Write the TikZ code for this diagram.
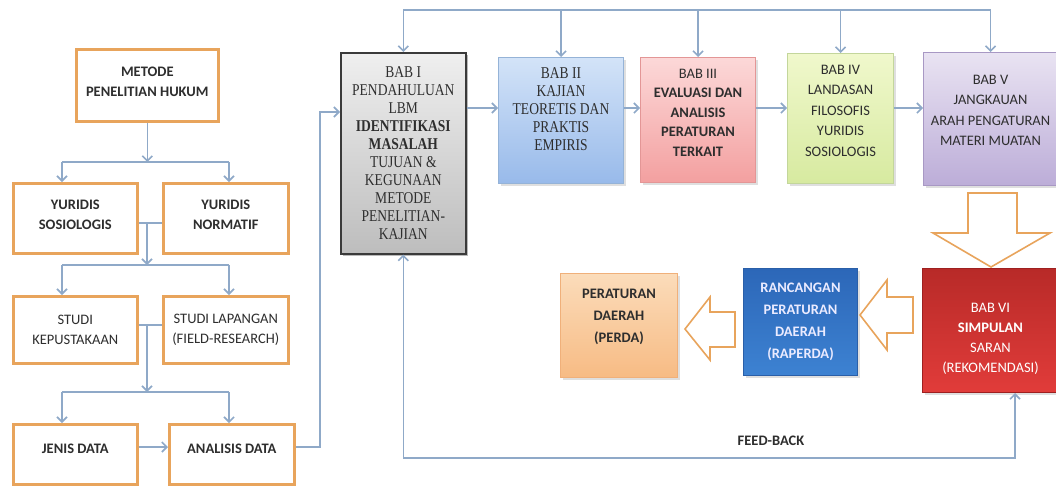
\documentclass[tikz,border=0pt]{standalone}
\usepackage{fontspec}
\setmainfont{Carlito}
\newfontfamily\serifB{Liberation Serif}[FakeStretch=0.82]
\usetikzlibrary{arrows.meta,shadows}
\definecolor{obord}{HTML}{E8A45C}
\definecolor{conc}{HTML}{8FA9C8}
\definecolor{txt}{HTML}{2E2E2E}
\definecolor{gA}{HTML}{EFEFEF}\definecolor{gB}{HTML}{BDBDBD}\definecolor{gD}{HTML}{3A3A3A}
\definecolor{bA}{HTML}{D3E3F8}\definecolor{bB}{HTML}{98BAEA}\definecolor{bD}{HTML}{95B3D7}
\definecolor{pA}{HTML}{FCD8D8}\definecolor{pB}{HTML}{F3A0A0}\definecolor{pD}{HTML}{E39696}
\definecolor{vA}{HTML}{F0F8CC}\definecolor{vB}{HTML}{D7EAA0}\definecolor{vD}{HTML}{C3D69B}
\definecolor{lA}{HTML}{E9E3F2}\definecolor{lB}{HTML}{BCADD8}\definecolor{lD}{HTML}{A898C4}
\definecolor{rA}{HTML}{B82A28}\definecolor{rB}{HTML}{E13C3A}\definecolor{rD}{HTML}{9E2020}
\definecolor{kA}{HTML}{2C67B8}\definecolor{kB}{HTML}{3D82D2}\definecolor{kD}{HTML}{2A5FA8}
\definecolor{oA}{HTML}{FBDCBA}\definecolor{oB}{HTML}{F7BB84}\definecolor{oD}{HTML}{F0B07A}
\begin{document}
\begin{tikzpicture}[x=1pt,y=-1pt,
  conn/.style={draw=conc,line width=1.6pt},
  arr/.style={conn,-{Straight Barb[length=5pt,width=10pt]}},
  lbox/.style={draw=obord,line width=2.6pt,fill=white,text=txt,align=center,inner sep=0pt,anchor=north west,
    font=\bfseries\fontsize{14.5}{19.5}\selectfont},
  bbox/.style={line width=1pt,align=center,inner sep=0pt,anchor=north west,text=txt,
    drop shadow={opacity=0.25,shadow xshift=2pt,shadow yshift=-2pt}},
  serifbox/.style={bbox,font=\serifB\fontsize{16.5}{18}\selectfont},
  calbox/.style={bbox,font=\fontsize{14.5}{20.5}\selectfont},
  bigarr/.style={draw=obord,line width=1.6pt,fill=white,line join=miter}
]
\useasboundingbox (0,0) rectangle (1056,485);

% left column
\node[lbox,minimum width=142,minimum height=72] (met) at (75,48) {METODE\\PENELITIAN HUKUM\rule[-7pt]{0pt}{7pt}};
\node[lbox,minimum width=124,minimum height=70] (ys) at (12,182) {YURIDIS\\SOSIOLOGIS\rule[-7pt]{0pt}{7pt}};
\node[lbox,minimum width=125,minimum height=70] (yn) at (162,182) {YURIDIS\\NORMATIF\rule[-7pt]{0pt}{7pt}};
\node[lbox,minimum width=124,minimum height=67] (sk) at (12,295) {\mdseries STUDI\\\mdseries KEPUSTAKAAN};
\node[lbox,minimum width=125,minimum height=67] (sl) at (162,295) {\mdseries STUDI LAPANGAN\\\mdseries (FIELD-RESEARCH)};
\node[lbox,minimum width=124,minimum height=60] (jd) at (12,423) {JENIS DATA\rule[-11pt]{0pt}{11pt}};
\node[lbox,minimum width=125,minimum height=60] (ad) at (168,423) {ANALISIS DATA\rule[-11pt]{0pt}{11pt}};

\coordinate (j1l) at (62,162); \coordinate (j1r) at (229,162);
\draw[arr] (met.south) -- (met.south |- j1l);
\draw[conn] (j1l) -- (j1r);
\draw[arr] (j1l) -- (j1l |- ys.north);
\draw[arr] (j1r) -- (j1r |- yn.north);

\coordinate (m1) at (147,223);
\coordinate (j2l) at (62,265); \coordinate (j2r) at (229,265);
\draw[conn] (ys.east |- m1) -- (yn.west |- m1);
\draw[arr] (m1) -- (m1 |- j2l);
\draw[conn] (j2l) -- (j2r);
\draw[arr] (j2l) -- (j2l |- sk.north);
\draw[arr] (j2r) -- (j2r |- sl.north);

\coordinate (m2) at (147,325);
\coordinate (j3l) at (62,392); \coordinate (j3r) at (229,392);
\draw[conn] (sk.east |- m2) -- (sl.west |- m2);
\draw[arr] (m2) -- (m2 |- j3l);
\draw[conn] (j3l) -- (j3r);
\draw[arr] (j3l) -- (j3l |- jd.north);
\draw[arr] (j3r) -- (j3r |- ad.north);

\coordinate (m3) at (0,447);
\draw[arr] (jd.east |- m3) -- (ad.west |- m3);

% BAB boxes
\node[serifbox,draw=gD,line width=1.6pt,top color=gA,bottom color=gB,minimum width=125,minimum height=201,
  drop shadow={opacity=0.4,shadow xshift=2pt,shadow yshift=-2pt}] (b1) at (340,52)
  {BAB I\\PENDAHULUAN\\LBM\\\textbf{IDENTIFIKASI}\\\textbf{MASALAH}\\TUJUAN \&\\KEGUNAAN\\METODE\\PENELITIAN-\\KAJIAN};
\node[serifbox,draw=bD,top color=bA,bottom color=bB,minimum width=125,minimum height=126] (b2) at (498,57)
  {BAB II\\KAJIAN\\TEORETIS DAN\\PRAKTIS\\EMPIRIS\rule[-22pt]{0pt}{22pt}};
\node[calbox,draw=pD,top color=pA,bottom color=pB,minimum width=115,minimum height=125,font=\fontsize{14.5}{19.5}\selectfont] (b3) at (640,57)
  {BAB III\\\textbf{EVALUASI DAN}\\\textbf{ANALISIS}\\\textbf{PERATURAN}\\\textbf{TERKAIT}\rule[-15pt]{0pt}{15pt}};
\node[calbox,draw=vD,top color=vA,bottom color=vB,minimum width=106,minimum height=130] (b4) at (787,53)
  {BAB IV\\LANDASAN\\FILOSOFIS\\YURIDIS\\SOSIOLOGIS\rule[-16pt]{0pt}{16pt}};
\node[calbox,draw=lD,top color=lA,bottom color=lB,minimum width=134,minimum height=133] (b5) at (923,52)
  {BAB V\\JANGKAUAN\\ARAH PENGATURAN\\MATERI MUATAN\rule[-17pt]{0pt}{17pt}};

\node[calbox,draw=rD,top color=rA,bottom color=rB,text=white,minimum width=136,minimum height=124,font=\fontsize{14.5}{20}\selectfont] (b6) at (922,268)
  {\rule{0pt}{25pt}BAB VI\\\textbf{SIMPULAN}\\SARAN\\(REKOMENDASI)};
\node[calbox,draw=kD,top color=kA,bottom color=kB,text=white!92!blue,minimum width=114,minimum height=107,font=\bfseries\fontsize{14.5}{22}\selectfont] (rp) at (743,268)
  {RANCANGAN\\PERATURAN\\DAERAH\\(RAPERDA)};
\node[calbox,draw=oD,top color=oA,bottom color=oB,minimum width=117,minimum height=104,font=\bfseries\fontsize{14.5}{22}\selectfont] (pd) at (560,273)
  {PERATURAN\\DAERAH\\(PERDA)\rule[-20pt]{0pt}{20pt}};

% connectors between BAB boxes
\coordinate (r) at (0,108);
\draw[arr] (b1.east |- r) -- (b2.west |- r);
\draw[arr] (b2.east |- r) -- (b3.west |- r);
\draw[arr] (b3.east |- r) -- (b4.west |- r);
\draw[arr] (b4.east |- r) -- (b5.west |- r);

% analysis -> BAB I
\coordinate (c1) at (320,447); \coordinate (c2) at (320,112);
\draw[arr] (ad.east |- c1) -- (c1) -- (c2) -- (b1.west |- c2);

% top bus
\coordinate (busL) at (b1.north |- 0,10); \coordinate (busR) at (b5.north |- 0,10);
\draw[conn] (busL) -- (busR);
\foreach \b in {b1,b2,b3,b4,b5} \draw[arr] (\b.north |- busL) -- (\b.north);

% feedback
\coordinate (fbL) at (b1.south |- 0,458); \coordinate (fbR) at (1015,458);
\draw[arr] (fbL) -- (fbR) -- (fbR |- b6.south);
\draw[arr] (fbL) -- (b1.south);
\node[font=\bfseries\fontsize{14.5}{16}\selectfont,text=txt] (fb) at (771,441) {FEED-BACK};

% hollow block arrows
\draw[bigarr] (968,193) -- (1017,193) -- (1017,233) -- (1050,233) -- (991,267) -- (933,233) -- (968,233) -- cycle;
\draw[bigarr] (913,297) -- (887,297) -- (887,280) -- (860,315) -- (887,350) -- (887,333) -- (913,333) -- cycle;
\draw[bigarr] (735,312) -- (710,312) -- (710,297) -- (685,329) -- (710,360) -- (710,347) -- (735,347) -- cycle;
\end{tikzpicture}
\end{document}
